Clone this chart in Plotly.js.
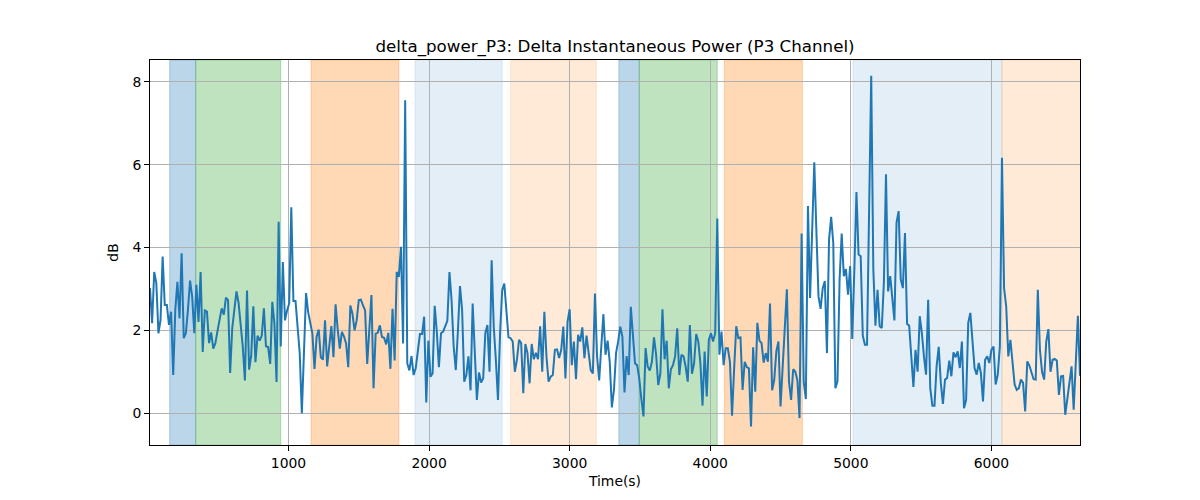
<!DOCTYPE html>
<html>
<head>
<meta charset="utf-8">
<script src="https://cdn.plot.ly/plotly-3.0.1.min.js"></script>
<style>
  body { margin: 0; background: #fff; }
  #chart { width: 1200px; height: 500px; }
</style>
</head>
<body>
<div id="chart"></div>
<script>
// sampling grid (s)
const T0 = 15;
const DT = 15;

// delta power readings (dB), one per sample
const power = [
  3.02, 2.17, 3.41, 3.14, 1.93, 2.25, 3.78, 2.61, 2.61, 2.13, 2.45, 0.92, 2.5, 3.17, 2.29, 3.86, 1.81, 1.93, 2.5, 3.2,
  2.81, 1.93, 3.1, 2.2, 3.41, 1.48, 2.48, 2.45, 1.69, 1.95, 1.56, 1.69, 1.98, 2.25, 2.53, 2.38, 2.79, 2.73, 0.97, 2.05,
  2.58, 2.94, 2.66, 2.17, 1.6, 0.79, 2.96, 1.05, 1.39, 2.58, 1.23, 1.87, 1.75, 1.87, 2.53, 1.61, 1.6,
  1.19, 2.69, 2.16, 0.75, 4.62, 1.61, 3.65, 2.24, 2.48, 2.65, 4.97, 2.71, 2.71, 2.16, 1.44, 0.0, 1.35, 2.9, 2.44, 2.16,
  1.92, 1.07, 1.84, 2.02, 1.35, 1.29, 2.24, 1.13, 1.68, 2.1, 1.35, 2.63, 2.02, 1.56, 1.96, 1.85, 1.68, 1.11, 2.6, 2.4,
  2.0, 2.24, 2.73, 2.74, 2.6, 2.48, 1.19, 2.16, 2.85, 0.6, 1.92, 1.94, 2.12, 1.84, 1.82, 1.66, 1.94, 1.07, 2.52, 1.27,
  3.41, 3.29, 4.02, 1.68, 7.56,
  1.2, 1.03, 1.38, 0.92, 1.08, 1.53, 1.91, 1.91, 2.33, 0.26, 1.75, 0.88, 0.96, 2.59, 1.97, 1.11, 1.93, 1.97, 2.09, 2.23,
  3.41, 2.73, 1.61, 1.04, 1.97, 3.07, 2.49, 0.76, 0.92, 1.37, 0.55, 2.65, 1.49, 0.32, 0.98, 0.74, 0.84, 1.93, 2.13, 1.0,
  3.69, 2.09, 1.29, 0.32, 1.93, 2.97, 3.13, 2.57, 1.83, 1.81, 1.73, 1.0, 1.29, 1.77, 1.69, 0.48, 1.67, 1.45, 0.72, 1.67,
  1.3, 1.46, 1.3, 2.1, 1.0, 2.45,
  1.37, 0.76, 0.88, 0.92, 1.53, 1.54, 1.33, 1.53, 2.09, 0.84, 2.21, 2.51, 1.16, 1.73, 0.82, 1.89, 1.73, 2.07, 1.33, 1.87,
  1.45, 1.04, 0.96, 2.89, 1.37, 0.79, 1.61, 2.39, 1.41, 1.75, 1.24, 0.14, 0.56, 1.45, 1.73, 2.09, 1.85, 0.5, 1.38, 0.92,
  2.57, 1.85, 1.2, 1.16, 0.84, 0.34, -0.08, 1.57, 1.12, 1.03, 1.24, 1.83, 1.41, 0.68, 0.95, 2.51, 1.3, 1.75, 0.6, 1.06,
  1.16, 1.37, 2.05, 0.92, 1.41,
  1.37, 1.12, 0.76, 2.13, 0.95, 1.2, 1.91, 1.73, 1.2, 0.18, 1.49, 0.4, 1.77, 1.93, 1.73, 1.93, 4.7, 1.41, 1.97, 1.16,
  1.57, 1.57, 1.24, -0.06, 1.08, 2.1, 1.81, 1.83, 0.56, 1.24, 1.11, 1.08, -0.32, 1.59, 0.52, 2.18, 1.75, 1.69, 1.22, 1.45,
  1.24, 2.65, 0.55, 0.8, 1.49, 1.73, 0.16, 1.12, 2.09, 2.99, 0.76, 0.32, 1.06, 1.0, 0.79, -0.12, 4.34,
  0.75, 0.34, 5.0, 2.78, 4.42, 6.06, 4.4, 2.82,
  2.52, 3.02, 3.19, 1.45, 4.19, 4.74, 4.11, 0.6, 0.77, 3.23, 4.34, 3.31, 3.48, 2.86, 3.55, 1.79, 3.47, 5.34, 3.83, 3.79,
  1.87, 1.65, 1.65, 4.5, 8.15, 3.47, 2.11, 2.98, 2.1, 2.06, 3.15, 5.77, 2.94, 3.31, 2.82, 2.24, 4.6, 4.88, 3.23, 3.02,
  4.35, 2.16, 2.11, 1.35, 0.63, 1.53, 1.0, 2.34, 1.94, 1.37, 0.93, 2.74, 0.6, 0.18, 0.18, 1.13, 1.6, 0.73, 0.22, 0.81,
  0.85, 1.27, 0.89, 1.47, 1.35, 1.49, 1.09,
  1.73, 0.12, 0.32, 2.18, 2.42, 1.85, 1.09, 0.93, 1.21, 0.97, 0.28, 1.29, 1.37, 1.21, 1.53, 1.61, 0.69, 0.93, 1.61, 6.17,
  3.02, 2.58, 1.37, 1.77, 1.13, 0.69, 0.56, 0.6, 0.81, 0.73, 0.04, 1.25, 1.15, 0.97, 0.82, 0.81, 2.98, 1.53, 1.0, 0.81,
  1.73, 2.03, 1.0, 1.29, 1.31, 1.27, 0.44, 0.89, 0.9, -0.04, 0.4, 0.77, 1.13, 0.08, 1.37, 2.35, 0.9
];

// shaded segments (s)
const segStart = [155, 340, 1160, 1900, 2580, 3350, 3495, 4100, 5015, 6075];
const segEnd   = [340, 945, 1785, 2520, 3190, 3495, 4050, 4655, 6075, 6700];
const segKind  = ['blue', 'green', 'orange', 'lightblue', 'lightorange',
                  'blue', 'green', 'orange', 'lightblue', 'lightorange'];

const segColors = {
  blue: 'rgba(31,119,180,0.3)',
  green: 'rgba(44,160,44,0.3)',
  orange: 'rgba(255,127,14,0.3)',
  lightblue: 'rgba(31,119,180,0.12)',
  lightorange: 'rgba(255,127,14,0.16)'
};

const time = power.map((v, i) => T0 + i * DT);

const shapes = segStart.map((s, i) => ({
  type: 'rect',
  xref: 'x', yref: 'paper',
  x0: s, x1: segEnd[i], y0: 0, y1: 1,
  fillcolor: segColors[segKind[i]],
  line: { width: 1, color: segColors[segKind[i]] },
  layer: 'below'
}));

const trace = {
  x: time,
  y: power,
  mode: 'lines',
  type: 'scatter',
  line: { color: '#1f77b4', width: 2 },
  hoverinfo: 'x+y'
};

const font = { family: 'DejaVu Sans, sans-serif', size: 13.9, color: '#000' };

const layout = {
  width: 1200,
  height: 500,
  margin: { l: 150, r: 120, t: 60, b: 55 },
  paper_bgcolor: '#fff',
  plot_bgcolor: '#fff',
  font: font,
  showlegend: false,
  title: {
    text: 'delta_power_P3: Delta Instantaneous Power (P3 Channel)',
    font: { family: 'DejaVu Sans, sans-serif', size: 16.7, color: '#000' },
    x: 0.5, xref: 'paper', xanchor: 'center',
    y: 1 - 46 / 500, yref: 'container', yanchor: 'middle'
  },
  xaxis: {
    range: [T0, T0 + (power.length - 1) * DT],
    tickvals: [1000, 2000, 3000, 4000, 5000, 6000],
    ticks: 'outside', ticklen: 5, tickwidth: 1, tickcolor: '#000',
    showgrid: true, gridcolor: '#b0b0b0', gridwidth: 1,
    zeroline: false,
    showline: true, linecolor: '#000', linewidth: 1, mirror: true,
    title: { text: 'Time(s)', font: font, standoff: 6 }
  },
  yaxis: {
    range: [-0.77, 8.53],
    tickvals: [0, 2, 4, 6, 8],
    ticks: 'outside', ticklen: 5, tickwidth: 1, tickcolor: '#000',
    showgrid: true, gridcolor: '#b0b0b0', gridwidth: 1,
    zeroline: false,
    showline: true, linecolor: '#000', linewidth: 1, mirror: true,
    title: { text: 'dB', font: font, standoff: 10 }
  },
  shapes: shapes
};

Plotly.newPlot('chart', [trace], layout, { displayModeBar: false, staticPlot: true });
</script>
</body>
</html>
